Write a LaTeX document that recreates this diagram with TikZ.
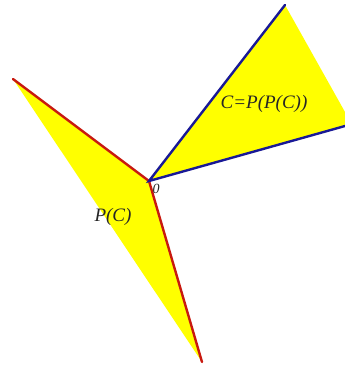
\documentclass[tikz,border=0pt]{standalone}
\usepackage{fontspec}
\setmainfont{Liberation Serif}
\definecolor{fillyel}{RGB}{255,255,0}
\definecolor{linered}{RGB}{200,25,15}
\definecolor{lineblue}{RGB}{25,25,150}
\begin{document}
\begin{tikzpicture}[x=1pt,y=-1pt,
  edgered/.style={draw=linered,line width=2.4pt,line cap=round},
  edgeblue/.style={draw=lineblue,line width=2.4pt,line cap=round},
  lab/.style={font=\fontsize{19}{21}\selectfont\itshape,text=black!85}]
\useasboundingbox (0,0) rectangle (345,367);
\coordinate (O) at (149,181);
\coordinate (R1) at (13,79);
\coordinate (R2) at (202,362);
\coordinate (B1) at (285,5);
\coordinate (B2) at (345,126);
\coordinate (B3) at (345,112);
\fill[fillyel] (O) -- (R1) -- (R2) -- cycle;
\fill[fillyel] (O) -- (B1) -- (B3) -- (B2) -- cycle;
\draw[edgered] (R1) -- (O) -- (R2);
\draw[edgeblue] (B1) -- (O) -- (B2);
\node[lab] (zero) at (156,189) {\fontsize{14}{15}\selectfont 0};
\node[lab] (pc) at (113,217) {P(C)};
\node[lab] (cp) at (264,104) {C=P(P(C))};
\end{tikzpicture}
\end{document}
